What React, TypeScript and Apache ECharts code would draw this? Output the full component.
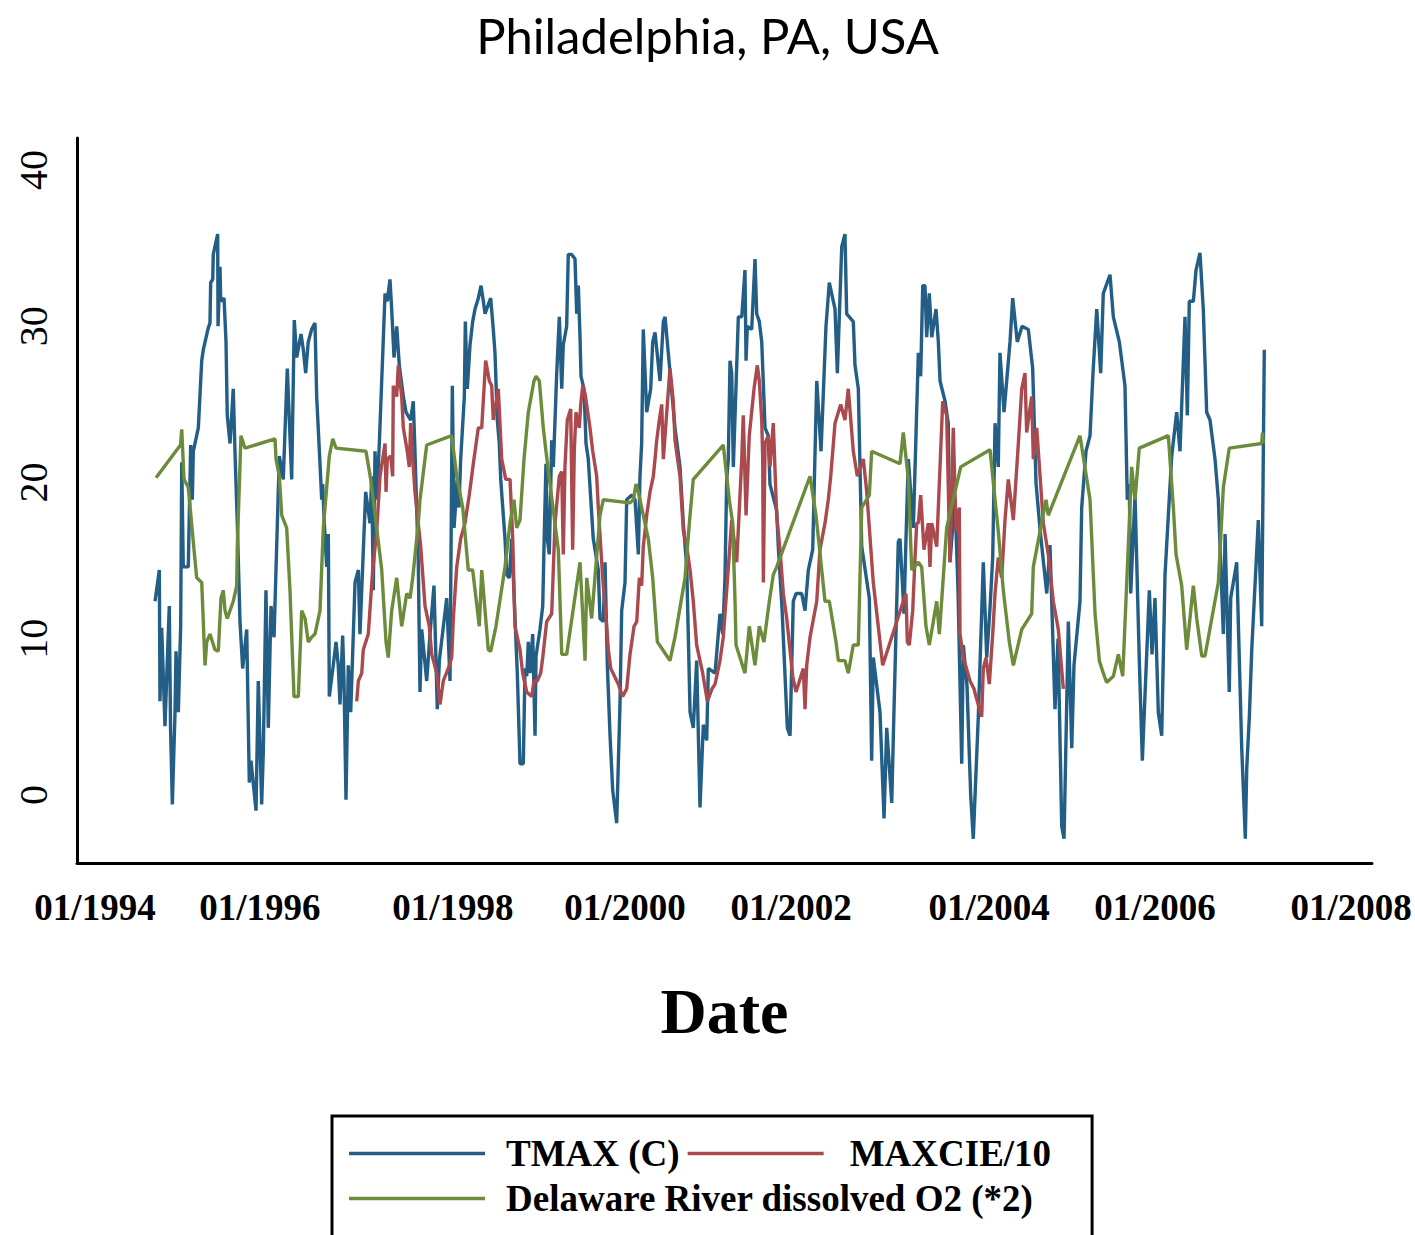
import React, { useEffect, useRef } from "react";
import * as echarts from "echarts";

const titleText = "Philadelphia, PA, USA";
const xAxisName = "Date";
const seriesNames = ["TMAX (C)", "MAXCIE/10", "Delaware River dissolved O2 (*2)"];
const seriesColors = ["#235E86", "#AA4A4E", "#6C8C3C"];

// x tick labels and their positions (decimal years)
const xTickLabels = ["01/1994", "01/1996", "01/1998", "01/2000", "01/2002", "01/2004", "01/2006", "01/2008"];
const xTickYears = [1994.201, 1996.042, 1998.196, 2000.116, 2001.969, 2004.179, 2006.031, 2008.219];
const yTickValues = [0, 10, 20, 30, 40];

// [decimal year, value]
const tmax: [number, number][] = [
  [1994.871,12.4],[1994.919,14.4],[1994.926,6.0],[1994.945,10.7],[1994.982,4.4],[1995.030,12.1],[1995.044,4.3],[1995.064,-0.6],[1995.094,5.3],[1995.105,9.2],[1995.131,5.3],[1995.157,10.8],[1995.169,21.3],[1995.186,14.6],[1995.242,14.6],[1995.269,22.4],[1995.287,18.9],[1995.298,22.0],[1995.354,23.5],[1995.392,27.8],[1995.410,28.5],[1995.465,29.9],[1995.484,30.2],[1995.492,32.8],[1995.515,33.0],[1995.521,34.6],[1995.551,35.4],[1995.570,35.9],[1995.574,30.0],[1995.596,33.8],[1995.604,31.6],[1995.641,31.8],[1995.663,29.0],[1995.677,24.3],[1995.708,22.5],[1995.744,26.0],[1995.763,22.0],[1995.789,17.4],[1995.819,11.1],[1995.849,8.1],[1995.894,10.6],[1995.923,0.8],[1995.942,2.2],[1995.998,-1.0],[1996.023,7.3],[1996.061,-0.6],[1996.079,2.7],[1996.109,13.1],[1996.135,4.3],[1996.165,12.1],[1996.199,10.1],[1996.258,21.7],[1996.302,20.2],[1996.347,27.3],[1996.396,20.2],[1996.425,30.4],[1996.452,28.0],[1996.500,29.5],[1996.526,28.5],[1996.552,27.0],[1996.581,29.0],[1996.619,29.8],[1996.656,30.2],[1996.675,25.5],[1996.712,21.2],[1996.731,18.9],[1996.742,19.9],[1996.760,17.4],[1996.787,14.6],[1996.805,16.7],[1996.816,6.3],[1996.860,8.3],[1996.891,9.8],[1996.916,8.3],[1996.935,5.8],[1996.965,10.2],[1996.980,7.3],[1997.002,-0.3],[1997.028,8.3],[1997.055,5.3],[1997.103,13.6],[1997.140,14.4],[1997.158,10.3],[1997.222,19.4],[1997.270,17.4],[1997.289,20.4],[1997.307,13.1],[1997.326,22.0],[1997.345,18.9],[1997.374,22.5],[1997.438,32.1],[1997.463,31.6],[1997.493,33.0],[1997.512,31.1],[1997.538,28.0],[1997.568,30.0],[1997.597,27.5],[1997.642,25.5],[1997.672,24.5],[1997.724,24.0],[1997.753,25.2],[1997.772,22.0],[1997.809,14.9],[1997.828,6.6],[1997.847,10.6],[1997.903,7.3],[1997.940,10.3],[1997.984,13.4],[1998.021,5.5],[1998.044,8.6],[1998.126,12.6],[1998.163,7.3],[1998.189,26.2],[1998.208,17.1],[1998.244,20.2],[1998.263,18.4],[1998.282,21.5],[1998.323,25.5],[1998.334,30.3],[1998.356,26.0],[1998.386,28.8],[1998.416,30.3],[1998.442,31.1],[1998.479,31.8],[1998.509,32.6],[1998.535,31.6],[1998.554,30.8],[1998.617,31.8],[1998.646,29.8],[1998.665,28.3],[1998.691,24.0],[1998.713,22.5],[1998.729,20.2],[1998.777,16.4],[1998.796,14.1],[1998.825,13.9],[1998.852,16.4],[1998.914,7.8],[1998.944,2.0],[1998.981,2.0],[1999.000,8.1],[1999.019,7.6],[1999.037,9.8],[1999.056,7.8],[1999.086,10.3],[1999.112,3.8],[1999.123,8.9],[1999.167,10.6],[1999.198,12.1],[1999.212,15.9],[1999.234,21.2],[1999.249,16.4],[1999.271,15.4],[1999.298,22.7],[1999.316,21.0],[1999.354,27.0],[1999.383,30.6],[1999.410,26.0],[1999.427,28.8],[1999.465,30.0],[1999.483,34.6],[1999.521,34.6],[1999.558,34.3],[1999.577,30.8],[1999.595,32.6],[1999.614,29.3],[1999.625,26.8],[1999.658,26.0],[1999.681,22.5],[1999.706,21.5],[1999.762,16.4],[1999.818,14.4],[1999.837,11.3],[1999.874,11.1],[1999.893,14.9],[1999.919,8.3],[1999.949,3.8],[1999.979,0.3],[2000.023,-1.8],[2000.060,5.8],[2000.079,11.8],[2000.116,13.6],[2000.135,18.9],[2000.191,19.2],[2000.228,18.9],[2000.265,15.4],[2000.283,20.4],[2000.302,22.5],[2000.320,29.8],[2000.358,24.5],[2000.403,26.0],[2000.425,29.0],[2000.451,29.6],[2000.507,26.5],[2000.544,30.3],[2000.563,30.6],[2000.599,28.3],[2000.674,23.5],[2000.730,21.0],[2000.767,17.4],[2000.805,14.6],[2000.823,10.1],[2000.842,5.3],[2000.878,4.3],[2000.916,8.6],[2000.953,-0.8],[2000.990,4.5],[2001.028,3.5],[2001.046,8.1],[2001.121,7.8],[2001.176,11.6],[2001.207,10.3],[2001.232,13.9],[2001.251,20.2],[2001.269,21.5],[2001.288,27.8],[2001.307,27.0],[2001.325,21.0],[2001.381,30.6],[2001.419,30.6],[2001.455,33.6],[2001.467,27.8],[2001.481,30.0],[2001.530,29.8],[2001.567,34.3],[2001.586,30.8],[2001.615,30.3],[2001.642,29.0],[2001.679,23.5],[2001.715,23.0],[2001.734,19.9],[2001.809,18.2],[2001.827,15.9],[2001.868,12.0],[2001.928,4.3],[2001.958,3.8],[2001.994,12.4],[2002.025,12.9],[2002.088,12.9],[2002.125,11.8],[2002.162,14.4],[2002.211,15.7],[2002.256,26.5],[2002.304,22.0],[2002.359,30.0],[2002.396,32.8],[2002.460,31.1],[2002.486,27.0],[2002.535,35.1],[2002.571,35.9],[2002.590,30.8],[2002.664,30.3],[2002.683,27.5],[2002.720,26.0],[2002.758,15.9],[2002.843,12.6],[2002.869,2.2],[2002.887,8.8],[2002.962,5.3],[2003.007,-1.5],[2003.037,4.3],[2003.093,-0.5],[2003.111,3.8],[2003.166,16.2],[2003.185,16.4],[2003.230,11.6],[2003.252,16.4],[2003.278,21.5],[2003.334,17.1],[2003.390,28.3],[2003.416,26.8],[2003.439,32.6],[2003.464,32.6],[2003.483,29.3],[2003.512,32.1],[2003.539,29.3],[2003.587,31.1],[2003.613,29.0],[2003.632,26.5],[2003.688,25.2],[2003.724,23.8],[2003.743,14.9],[2003.799,19.0],[2003.833,13.0],[2003.874,2.0],[2003.892,9.6],[2003.933,7.0],[2003.974,0.0],[2004.003,-2.8],[2004.059,5.0],[2004.115,14.9],[2004.153,8.8],[2004.190,12.0],[2004.220,15.2],[2004.246,23.8],[2004.282,21.0],[2004.301,28.3],[2004.346,24.5],[2004.376,26.5],[2004.413,29.0],[2004.443,31.8],[2004.494,29.0],[2004.547,30.0],[2004.617,29.8],[2004.666,27.3],[2004.703,20.0],[2004.748,17.0],[2004.823,12.9],[2004.859,16.0],[2004.915,5.5],[2004.949,10.0],[2004.990,-2.0],[2005.016,-2.8],[2005.064,11.1],[2005.102,3.0],[2005.127,8.3],[2005.194,12.4],[2005.213,18.4],[2005.261,22.0],[2005.306,23.0],[2005.339,27.0],[2005.381,31.1],[2005.425,27.0],[2005.454,32.1],[2005.529,33.3],[2005.566,30.6],[2005.633,29.0],[2005.696,26.2],[2005.722,18.9],[2005.744,19.9],[2005.760,12.9],[2005.808,19.2],[2005.856,8.6],[2005.890,2.2],[2005.908,4.8],[2005.968,13.1],[2005.998,9.0],[2006.031,12.6],[2006.068,5.3],[2006.106,3.8],[2006.143,14.1],[2006.180,17.9],[2006.218,21.7],[2006.273,24.5],[2006.310,22.0],[2006.366,30.6],[2006.392,24.3],[2006.414,31.6],[2006.459,31.6],[2006.489,33.6],[2006.533,34.7],[2006.570,31.1],[2006.608,24.5],[2006.645,24.0],[2006.701,21.5],[2006.738,18.9],[2006.794,10.3],[2006.813,16.7],[2006.860,6.6],[2006.876,12.6],[2006.943,14.9],[2006.999,3.0],[2007.039,-2.8],[2007.055,1.7],[2007.084,5.0],[2007.111,9.3],[2007.184,17.6],[2007.222,10.8],[2007.251,28.5]
];

const maxcie: [number, number][] = [
  [1997.122,6.0],[1997.140,7.3],[1997.178,7.8],[1997.195,9.3],[1997.251,10.3],[1997.300,14.4],[1997.345,16.9],[1997.382,20.4],[1997.438,22.5],[1997.449,19.4],[1997.463,21.5],[1997.501,21.7],[1997.523,20.4],[1997.530,26.2],[1997.568,25.5],[1997.586,27.5],[1997.624,25.5],[1997.642,23.5],[1997.686,22.0],[1997.709,21.0],[1997.724,23.8],[1997.747,21.5],[1997.772,19.4],[1997.809,17.4],[1997.836,15.9],[1997.884,12.1],[1997.932,10.8],[1997.959,9.0],[1998.015,7.8],[1998.051,5.8],[1998.088,7.3],[1998.144,8.1],[1998.182,8.8],[1998.200,11.3],[1998.238,14.6],[1998.282,16.4],[1998.330,17.4],[1998.378,19.2],[1998.423,21.2],[1998.479,23.5],[1998.517,23.5],[1998.561,27.8],[1998.602,26.5],[1998.628,26.2],[1998.646,24.0],[1998.702,26.0],[1998.740,21.5],[1998.785,20.2],[1998.833,20.2],[1998.863,16.4],[1998.888,10.8],[1998.944,9.3],[1998.974,7.8],[1999.019,6.6],[1999.075,6.3],[1999.100,7.3],[1999.137,7.3],[1999.175,7.8],[1999.198,8.8],[1999.242,11.1],[1999.298,11.6],[1999.335,17.4],[1999.383,20.4],[1999.410,20.7],[1999.427,15.4],[1999.446,21.0],[1999.472,24.0],[1999.510,24.7],[1999.532,15.7],[1999.550,22.0],[1999.569,24.5],[1999.606,23.5],[1999.622,25.0],[1999.644,26.2],[1999.670,25.7],[1999.725,23.5],[1999.756,22.0],[1999.800,20.4],[1999.818,18.4],[1999.867,13.9],[1999.912,10.8],[1999.930,9.3],[1999.957,8.1],[2000.041,7.1],[2000.090,6.3],[2000.135,6.8],[2000.172,9.0],[2000.217,10.8],[2000.247,11.1],[2000.276,13.9],[2000.302,13.4],[2000.320,15.9],[2000.358,17.9],[2000.395,19.4],[2000.432,20.4],[2000.451,21.5],[2000.470,22.7],[2000.499,24.0],[2000.526,25.0],[2000.544,21.5],[2000.618,27.3],[2000.655,25.2],[2000.674,22.7],[2000.730,20.4],[2000.767,16.9],[2000.805,15.9],[2000.842,14.4],[2000.878,12.4],[2000.916,9.6],[2000.983,7.8],[2001.035,6.0],[2001.087,6.8],[2001.121,7.1],[2001.176,8.6],[2001.213,10.1],[2001.251,13.1],[2001.307,17.6],[2001.363,14.9],[2001.419,21.5],[2001.436,24.3],[2001.467,17.9],[2001.503,23.0],[2001.556,26.0],[2001.593,27.5],[2001.615,26.5],[2001.642,24.0],[2001.653,21.5],[2001.660,13.6],[2001.679,22.5],[2001.715,23.0],[2001.734,21.0],[2001.771,23.8],[2001.809,17.9],[2001.846,15.7],[2001.883,12.9],[2001.921,11.3],[2001.988,7.6],[2002.025,6.6],[2002.106,8.1],[2002.125,5.5],[2002.144,8.3],[2002.181,10.1],[2002.256,12.4],[2002.292,15.7],[2002.348,17.4],[2002.385,18.9],[2002.412,20.4],[2002.460,23.8],[2002.523,25.0],[2002.571,24.0],[2002.608,26.0],[2002.664,22.0],[2002.709,20.4],[2002.776,21.5],[2002.814,19.4],[2002.887,13.6],[2002.992,8.3],[2003.222,12.4],[2003.252,12.9],[2003.267,9.8],[2003.289,9.6],[2003.327,11.8],[2003.353,15.2],[2003.372,17.4],[2003.390,17.4],[2003.416,19.2],[2003.453,15.7],[2003.501,17.4],[2003.520,14.6],[2003.539,17.4],[2003.595,15.9],[2003.662,25.2],[2003.706,24.3],[2003.743,14.9],[2003.780,23.5],[2003.810,16.9],[2003.847,18.4],[2003.855,10.3],[2003.892,8.8],[2003.967,7.3],[2004.011,6.8],[2004.033,6.3],[2004.097,5.0],[2004.115,8.1],[2004.145,8.8],[2004.182,7.1],[2004.220,10.3],[2004.246,12.9],[2004.282,15.2],[2004.320,13.9],[2004.357,17.6],[2004.394,20.2],[2004.450,17.6],[2004.506,22.5],[2004.544,26.0],[2004.580,27.0],[2004.599,23.2],[2004.655,25.5],[2004.673,21.5],[2004.711,23.5],[2004.785,17.4],[2004.840,15.4],[2004.896,12.4],[2004.952,10.6],[2004.971,9.3],[2005.008,6.8]
];

const oxygen: [number, number][] = [
  [1994.882,20.3],[1995.155,22.4],[1995.169,23.4],[1995.194,20.2],[1995.242,19.7],[1995.306,15.7],[1995.336,13.9],[1995.392,13.6],[1995.429,8.3],[1995.448,9.8],[1995.484,10.3],[1995.540,9.3],[1995.577,9.2],[1995.607,12.6],[1995.633,13.1],[1995.652,11.8],[1995.677,11.3],[1995.744,12.4],[1995.782,13.4],[1995.789,15.9],[1995.830,23.0],[1995.875,22.2],[1996.210,22.8],[1996.221,21.5],[1996.258,20.4],[1996.285,17.9],[1996.340,17.1],[1996.377,13.1],[1996.422,6.3],[1996.470,6.3],[1996.508,11.8],[1996.545,11.3],[1996.581,9.8],[1996.619,10.1],[1996.656,10.3],[1996.712,11.8],[1996.749,17.1],[1996.816,21.7],[1996.854,22.8],[1996.891,22.2],[1997.225,22.0],[1997.278,20.2],[1997.307,18.9],[1997.401,14.4],[1997.449,9.8],[1997.474,8.8],[1997.512,11.8],[1997.568,13.9],[1997.624,10.8],[1997.680,12.9],[1997.717,12.6],[1997.747,13.9],[1997.809,17.4],[1997.828,18.9],[1997.903,22.4],[1998.182,23.0],[1998.238,20.4],[1998.305,18.4],[1998.367,14.4],[1998.416,14.4],[1998.490,10.8],[1998.517,14.4],[1998.590,9.3],[1998.617,9.2],[1998.676,10.8],[1998.777,14.6],[1998.833,17.4],[1998.877,18.9],[1998.907,17.1],[1998.944,17.6],[1998.989,21.5],[1999.037,24.5],[1999.100,26.5],[1999.123,26.8],[1999.160,26.5],[1999.204,23.5],[1999.234,22.0],[1999.279,19.9],[1999.372,15.7],[1999.410,9.0],[1999.465,9.0],[1999.614,14.9],[1999.670,8.6],[1999.689,13.9],[1999.744,11.3],[1999.837,17.9],[1999.874,18.9],[2000.172,18.7],[2000.209,18.9],[2000.239,19.9],[2000.265,19.4],[2000.376,16.4],[2000.425,13.9],[2000.477,9.8],[2000.537,9.3],[2000.618,8.6],[2000.674,10.1],[2000.786,13.9],[2000.834,17.4],[2000.878,20.2],[2001.213,22.4],[2001.251,20.4],[2001.280,18.9],[2001.318,17.4],[2001.344,12.4],[2001.355,9.6],[2001.455,7.8],[2001.503,10.8],[2001.567,8.3],[2001.615,10.8],[2001.667,9.8],[2001.727,12.4],[2001.771,14.1],[2001.809,14.6],[2002.181,20.4],[2002.248,17.9],[2002.348,12.4],[2002.396,12.4],[2002.471,9.8],[2002.497,8.6],[2002.571,8.6],[2002.608,7.8],[2002.664,9.6],[2002.720,9.6],[2002.758,18.4],[2002.843,19.2],[2002.869,22.0],[2003.185,21.2],[2003.222,23.2],[2003.278,20.2],[2003.316,14.4],[2003.390,14.9],[2003.427,14.6],[2003.475,10.8],[2003.512,9.6],[2003.557,11.1],[2003.595,12.4],[2003.624,10.3],[2003.662,13.4],[2003.706,17.1],[2003.863,21.0],[2004.190,22.1],[2004.246,18.9],[2004.282,16.9],[2004.338,13.1],[2004.405,9.8],[2004.450,8.3],[2004.544,10.6],[2004.655,11.6],[2004.673,14.6],[2004.815,18.9],[2004.840,17.9],[2005.194,23.0],[2005.306,18.9],[2005.362,11.6],[2005.410,8.6],[2005.454,7.8],[2005.492,7.2],[2005.566,7.6],[2005.622,9.0],[2005.671,7.6],[2005.771,21.0],[2005.808,18.9],[2005.856,22.2],[2006.180,23.0],[2006.236,18.4],[2006.266,15.4],[2006.329,13.4],[2006.385,9.3],[2006.459,13.4],[2006.497,11.3],[2006.553,8.9],[2006.589,8.9],[2006.738,13.6],[2006.794,19.7],[2006.860,22.2],[2007.222,22.5],[2007.231,23.2],[2007.240,22.5]
];

const seriesData = [tmax, maxcie, oxygen];

export default function App() {
  const ref = useRef<HTMLDivElement>(null);
  useEffect(() => {
    if (!ref.current) return;
    const chart = echarts.init(ref.current, undefined, { renderer: "svg" });
    const serif = "'Liberation Serif', 'Times New Roman', serif";
    chart.setOption({
      animation: false,
      backgroundColor: "#ffffff",
      title: {
        text: titleText,
        left: "center",
        top: 5,
        textStyle: { fontFamily: "Lato, 'Open Sans', sans-serif", fontSize: 49, fontWeight: "normal", color: "#000" },
      },
      grid: { left: 77, right: 43, top: 138, bottom: 372, containLabel: false },
      xAxis: {
        type: "value",
        min: 1994,
        max: 2008.453,
        name: xAxisName,
        nameLocation: "middle",
        nameGap: 116,
        nameTextStyle: { fontFamily: serif, fontWeight: "bold", fontSize: 64, color: "#000" },
        axisLine: { show: true, onZero: false, lineStyle: { color: "#000", width: 3 } },
        axisTick: { show: false },
        splitLine: { show: false },
        axisLabel: {
          customValues: xTickYears,
          formatter: (v: number) => {
            const i = xTickYears.findIndex((t) => Math.abs(t - v) < 1e-6);
            return i >= 0 ? xTickLabels[i] : "";
          },
          fontFamily: serif,
          fontWeight: "bold",
          fontSize: 37,
          color: "#000",
          margin: 26,
          hideOverlap: false,
        },
      },
      yAxis: {
        type: "value",
        min: -4.35,
        max: 42.05,
        axisLine: { show: true, onZero: false, lineStyle: { color: "#000", width: 3 } },
        axisTick: { show: false },
        splitLine: { show: false },
        axisLabel: {
          customValues: yTickValues,
          rotate: 90,
          fontFamily: serif,
          fontSize: 40,
          color: "#000",
          margin: 24,
        },
      },
      legend: {
        left: 332,
        top: 1116,
        width: 740,
        orient: "horizontal",
        icon: "rect",
        itemWidth: 136,
        itemHeight: 3.5,
        itemGap: 8,
        padding: [19, 41, 30, 17],
        borderColor: "#000",
        borderWidth: 3,
        textStyle: { fontFamily: serif, fontWeight: "bold", fontSize: 37, color: "#000" },
        data: [
          { name: seriesNames[0], textStyle: { padding: [0, 0, 0, 16] } },
          { name: seriesNames[1], textStyle: { padding: [0, 0, 0, 21] } },
          { name: seriesNames[2], textStyle: { padding: [0, 0, 0, 16] } },
        ],
      },
      series: seriesData.map((d, i) => ({
        name: seriesNames[i],
        type: "line",
        data: d,
        showSymbol: false,
        symbol: "none",
        color: seriesColors[i],
        itemStyle: { color: seriesColors[i] },
        lineStyle: { color: seriesColors[i], width: 3.4 },
      })),
    });
    return () => chart.dispose();
  }, []);
  return (
    <div
      ref={ref}
      style={{ position: "fixed", left: 0, top: 0, width: 1415, height: 1235, background: "#fff" }}
    />
  );
}
